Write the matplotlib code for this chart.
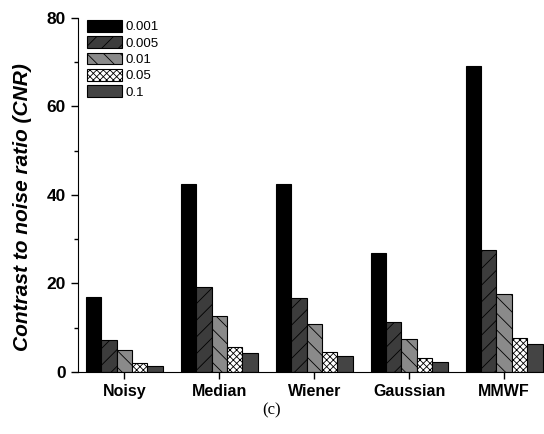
import numpy as np
import matplotlib.pyplot as plt
from matplotlib.ticker import MultipleLocator

# CNR per filter for each noise variance
filters = ["Noisy", "Median", "Wiener", "Gaussian", "MMWF"]
labels = ["0.001", "0.005", "0.01", "0.05", "0.1"]
v0001 = [16.9, 42.5, 42.5, 26.8, 69.0]
v0005 = [7.2, 19.3, 16.6, 11.3, 27.5]
v001 = [5.0, 12.6, 10.9, 7.4, 17.6]
v005 = [2.1, 5.7, 4.5, 3.1, 7.6]
v01 = [1.4, 4.3, 3.5, 2.2, 6.3]
series = [v0001, v0005, v001, v005, v01]

colors = ["black", "#3c3c3c", "#8a8a8a", "white", "#444444"]
hatches = [None, "//", "\\\\", "xxxxx", None]

plt.rcParams["font.family"] = ["Liberation Sans", "DejaVu Sans"]
plt.rcParams["hatch.linewidth"] = 0.6

fig = plt.figure(figsize=(5.44, 4.34), dpi=100)
ax = fig.add_axes([0.143, 0.143, 0.857, 0.816])

x = np.arange(len(filters))
w = 0.162
for i, vals in enumerate(series):
    ax.bar(x + (i - 2) * w, vals, w, color=colors[i], hatch=hatches[i],
           edgecolor="black", linewidth=0.8, label=labels[i])

ax.set_xlim(-0.49, 4.42)
ax.set_ylim(0, 80)
ax.yaxis.set_major_locator(MultipleLocator(20))
ax.yaxis.set_minor_locator(MultipleLocator(10))
ax.set_xticks(x)
ax.set_xticklabels(filters, fontsize=11.5, fontweight="bold")
for t in ax.get_yticklabels():
    t.set_fontsize(12.5)
    t.set_fontweight("bold")
ax.tick_params(axis="both", direction="out", length=5, width=1)
ax.tick_params(axis="y", which="minor", length=3, width=1)
ax.spines["top"].set_visible(False)
ax.spines["right"].set_visible(False)

# y label placed by hand so it lines up with the original
fig.text(23 / 544, 1 - 207 / 434, "Contrast to noise ratio (CNR)", rotation=90,
         ha="center", va="center", fontsize=15, fontweight="bold", fontstyle="italic")

ax.legend(loc="upper left", bbox_to_anchor=(0.0, 1.02), frameon=False,
          fontsize=9.5, handlelength=2.65, handleheight=1.0, labelspacing=0.22,
          handletextpad=0.3, borderpad=0.2)

fig.text(0.5, 0.055, "(c)", ha="center", va="center", fontsize=12,
         family="Liberation Serif")

plt.savefig("out.png", dpi=100)
